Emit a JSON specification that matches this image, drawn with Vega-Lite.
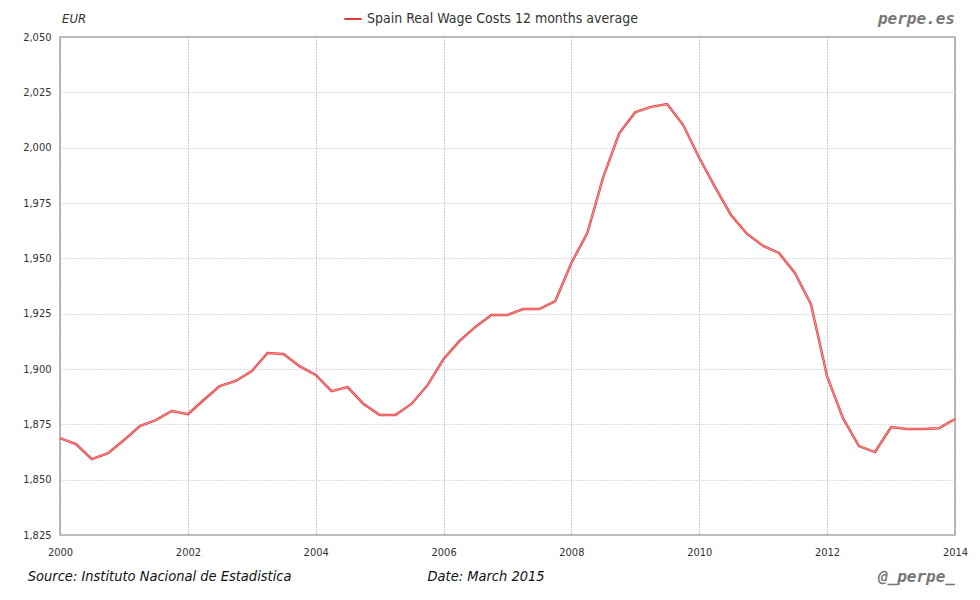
{
  "$schema": "https://vega.github.io/schema/vega-lite/v6.json",
  "autosize": "none",
  "width": 895,
  "height": 498,
  "padding": {"left": 60, "top": 37, "right": 25, "bottom": 65},
  "background": "white",
  "config": {
    "font": "DejaVu Sans Condensed, sans-serif",
    "view": {"stroke": "#a6a6a6", "strokeWidth": 1.5},
    "axis": {"labelFont": "DejaVu Sans Condensed, sans-serif", "labelFontSize": 11, "labelColor": "#333", "domain": false, "ticks": false, "gridDash": [1, 2]}
  },
  "datasets": {
    "wages": [
      {"date": "2000-01-01", "value": 1868.8},
      {"date": "2000-04-01", "value": 1866.1},
      {"date": "2000-07-01", "value": 1859.3},
      {"date": "2000-10-01", "value": 1862.0},
      {"date": "2001-01-01", "value": 1867.9},
      {"date": "2001-04-01", "value": 1874.2},
      {"date": "2001-07-01", "value": 1876.9},
      {"date": "2001-10-01", "value": 1881.0},
      {"date": "2002-01-01", "value": 1879.6},
      {"date": "2002-04-01", "value": 1886.0},
      {"date": "2002-07-01", "value": 1892.3},
      {"date": "2002-10-01", "value": 1894.6},
      {"date": "2003-01-01", "value": 1899.1},
      {"date": "2003-04-01", "value": 1907.2},
      {"date": "2003-07-01", "value": 1906.8},
      {"date": "2003-10-01", "value": 1901.3},
      {"date": "2004-01-01", "value": 1897.3},
      {"date": "2004-04-01", "value": 1890.0},
      {"date": "2004-07-01", "value": 1891.8},
      {"date": "2004-10-01", "value": 1884.2},
      {"date": "2005-01-01", "value": 1879.2},
      {"date": "2005-04-01", "value": 1879.2},
      {"date": "2005-07-01", "value": 1884.2},
      {"date": "2005-10-01", "value": 1892.7},
      {"date": "2006-01-01", "value": 1904.5},
      {"date": "2006-04-01", "value": 1912.6},
      {"date": "2006-07-01", "value": 1919.0},
      {"date": "2006-10-01", "value": 1924.4},
      {"date": "2007-01-01", "value": 1924.4},
      {"date": "2007-04-01", "value": 1927.1},
      {"date": "2007-07-01", "value": 1927.1},
      {"date": "2007-10-01", "value": 1930.7},
      {"date": "2008-01-01", "value": 1947.9},
      {"date": "2008-04-01", "value": 1961.4},
      {"date": "2008-07-01", "value": 1986.7},
      {"date": "2008-10-01", "value": 2006.6},
      {"date": "2009-01-01", "value": 2016.1},
      {"date": "2009-04-01", "value": 2018.4},
      {"date": "2009-07-01", "value": 2019.7},
      {"date": "2009-10-01", "value": 2010.2},
      {"date": "2010-01-01", "value": 1995.3},
      {"date": "2010-04-01", "value": 1982.2},
      {"date": "2010-07-01", "value": 1969.6},
      {"date": "2010-10-01", "value": 1961.0},
      {"date": "2011-01-01", "value": 1955.6},
      {"date": "2011-04-01", "value": 1952.4},
      {"date": "2011-07-01", "value": 1943.4},
      {"date": "2011-10-01", "value": 1929.3},
      {"date": "2012-01-01", "value": 1896.8},
      {"date": "2012-04-01", "value": 1877.8},
      {"date": "2012-07-01", "value": 1865.2},
      {"date": "2012-10-01", "value": 1862.5},
      {"date": "2013-01-01", "value": 1873.8},
      {"date": "2013-04-01", "value": 1872.9},
      {"date": "2013-07-01", "value": 1872.9},
      {"date": "2013-10-01", "value": 1873.2},
      {"date": "2014-01-01", "value": 1877.4}
    ]
  },
  "layer": [
    {
      "data": {"name": "wages"},
      "mark": {"type": "line", "strokeWidth": 2.4, "interpolate": "linear"},
      "encoding": {
        "x": {
          "field": "date", "type": "temporal",
          "scale": {"type": "utc", "domain": [{"year": 2000, "month": 1, "date": 1, "utc": true}, {"year": 2014, "month": 1, "date": 1, "utc": true}]},
          "axis": {"title": null, "format": "%Y", "tickCount": {"interval": "year", "step": 2}, "labelPadding": 11, "gridColor": "#999", "gridOpacity": 1, "labelFlush": false}
        },
        "y": {
          "field": "value", "type": "quantitative",
          "scale": {"domain": [1825, 2050], "nice": false, "zero": false},
          "axis": {"title": null, "format": ",.0f", "values": [1825, 1850, 1875, 1900, 1925, 1950, 1975, 2000, 2025, 2050], "labelPadding": 9, "gridColor": "#bbb", "gridOpacity": 1}
        },
        "color": {
          "datum": "Spain Real Wage Costs 12 months average",
          "type": "nominal",
          "scale": {"range": ["#e6393b"]},
          "legend": {"title": null, "orient": "none", "legendX": 283, "legendY": -28, "symbolType": "stroke", "symbolStrokeWidth": 2, "symbolSize": 300, "labelFontSize": 14, "labelLimit": 0, "labelColor": "#333", "labelFont": "DejaVu Sans Condensed, sans-serif"}
        }
      }
    },
    {
      "data": {"name": "wages"},
      "mark": {"type": "line", "strokeWidth": 0.8, "color": "#f8b4b4"},
      "encoding": {
        "x": {"field": "date", "type": "temporal"},
        "y": {"field": "value", "type": "quantitative"}
      }
    },
    {
      "data": {"values": [{}]},
      "mark": {"type": "text", "text": "EUR", "align": "left", "baseline": "middle", "fontStyle": "italic", "fontSize": 13, "color": "#333", "dx": 2},
      "encoding": {
        "x": {"datum": {"year": 2000, "month": 1, "date": 1, "utc": true}, "type": "temporal"},
        "y": {"datum": 2058, "type": "quantitative"}
      }
    },
    {
      "data": {"values": [{}]},
      "mark": {"type": "text", "text": "perpe.es", "align": "right", "baseline": "middle", "fontStyle": "italic", "fontWeight": "bold", "fontSize": 16, "color": "#777", "font": "DejaVu Sans Mono, monospace"},
      "encoding": {
        "x": {"datum": {"year": 2014, "month": 1, "date": 1, "utc": true}, "type": "temporal"},
        "y": {"datum": 2058, "type": "quantitative"}
      }
    },
    {
      "data": {"values": [{}]},
      "mark": {"type": "text", "text": "Source: Instituto Nacional de Estadistica", "align": "left", "baseline": "middle", "fontStyle": "italic", "fontSize": 14.5, "color": "#111"},
      "encoding": {
        "x": {"datum": {"year": 1999, "month": 7, "date": 1, "utc": true}, "type": "temporal"},
        "y": {"datum": 1806, "type": "quantitative"}
      }
    },
    {
      "data": {"values": [{}]},
      "mark": {"type": "text", "text": "Date: March 2015", "align": "left", "baseline": "middle", "fontStyle": "italic", "fontSize": 14.5, "color": "#111"},
      "encoding": {
        "x": {"datum": {"year": 2005, "month": 10, "date": 1, "utc": true}, "type": "temporal"},
        "y": {"datum": 1806, "type": "quantitative"}
      }
    },
    {
      "data": {"values": [{}]},
      "mark": {"type": "text", "text": "@_perpe_", "align": "right", "baseline": "middle", "fontStyle": "italic", "fontWeight": "bold", "fontSize": 16, "color": "#777", "font": "DejaVu Sans Mono, monospace"},
      "encoding": {
        "x": {"datum": {"year": 2014, "month": 1, "date": 1, "utc": true}, "type": "temporal"},
        "y": {"datum": 1806, "type": "quantitative"}
      }
    }
  ]
}
